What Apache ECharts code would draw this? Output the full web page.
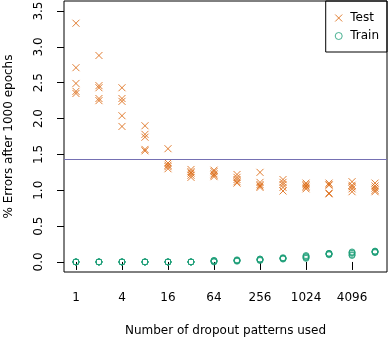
<!DOCTYPE html>
<html>
<head>
<meta charset="utf-8">
<script src="https://cdn.jsdelivr.net/npm/echarts@6/dist/echarts.min.js"></script>
<style>
	html, body {margin: 0; padding: 0; background: #fff;}
	#chart {width: 388px; height: 342px;}
</style>
</head>
<body>
<div id="chart"></div>
<script>
// number of dropout patterns (x, log2 scale)
const patterns = [1, 2, 4, 8, 16, 32, 64, 128, 256, 512, 1024, 2048, 4096, 8192]

// % test error after 1000 epochs, 5 runs per pattern count
const testErrors = [
	[3.33, 2.71, 2.49, 2.38, 2.35],
	[2.88, 2.46, 2.43, 2.28, 2.25],
	[2.43, 2.28, 2.24, 2.04, 1.89],
	[1.90, 1.78, 1.74, 1.57, 1.55],
	[1.58, 1.38, 1.35, 1.33, 1.30],
	[1.29, 1.26, 1.24, 1.21, 1.18],
	[1.28, 1.26, 1.23, 1.21, 1.19],
	[1.22, 1.18, 1.15, 1.12, 1.10],
	[1.25, 1.11, 1.08, 1.06, 1.04],
	[1.15, 1.11, 1.08, 1.04, 0.99],
	[1.10, 1.08, 1.06, 1.04, 1.02],
	[1.10, 1.08, 1.07, 0.96, 0.95],
	[1.12, 1.07, 1.05, 1.02, 0.98],
	[1.10, 1.06, 1.03, 1.00, 0.98]
]

// % train error after 1000 epochs
const trainErrors = [
	[0, 0, 0, 0, 0],
	[0, 0, 0, 0, 0],
	[0, 0, 0, 0, 0],
	[0, 0, 0, 0, 0],
	[0, 0, 0, 0, 0],
	[0, 0, 0, 0, 0],
	[0.00, 0.01, 0.01, 0.02, 0.02],
	[0.01, 0.02, 0.02, 0.02, 0.03],
	[0.02, 0.03, 0.03, 0.04, 0.04],
	[0.04, 0.05, 0.05, 0.05, 0.06],
	[0.05, 0.06, 0.07, 0.08, 0.09],
	[0.10, 0.11, 0.11, 0.12, 0.12],
	[0.09, 0.10, 0.12, 0.13, 0.14],
	[0.13, 0.14, 0.14, 0.15, 0.15]
]

const xTicks = [1, 4, 16, 64, 256, 1024, 4096]
const yTicks = [0, 0.5, 1, 1.5, 2, 2.5, 3, 3.5]
const baseline = 1.43

const font = 'DejaVu Sans'
const toPoints = rows => rows.flatMap((vals, i) => vals.map(v => [patterns[i], v]))

const chart = echarts.init(document.getElementById('chart'))
chart.setOption({
	animation: false,
	backgroundColor: '#fff',
	textStyle: {fontFamily: font, color: '#000'},
	grid: {
		left: 64, right: 1, top: 1, bottom: 70,
		outerBoundsMode: 'none',
		show: true, borderColor: '#000', borderWidth: 1
	},
	legend: {
		right: 1, top: 1,
		orient: 'vertical',
		data: ['Test', 'Train'],
		borderColor: '#000', borderWidth: 1,
		padding: [11, 8, 10, 9],
		itemWidth: 7, itemHeight: 7,
		itemGap: 6,
		itemStyle: {borderWidth: 1},
		textStyle: {fontFamily: font, fontSize: 12, color: '#000', padding: [0, 0, 0, 3]}
	},
	xAxis: {
		type: 'log',
		logBase: 2,
		min: Math.pow(2, -0.52),
		max: Math.pow(2, 13.52),
		name: 'Number of dropout patterns used',
		nameLocation: 'middle',
		nameGap: 53,
		nameTextStyle: {fontFamily: font, fontSize: 12, color: '#000'},
		axisLine: {show: false},
		splitLine: {show: false},
		axisTick: {show: true, length: 8, lineStyle: {color: '#000'}, customValues: xTicks},
		axisLabel: {
			customValues: xTicks,
			margin: 20,
			fontFamily: font, fontSize: 12, color: '#000',
			formatter: v => String(Math.round(v))
		}
	},
	yAxis: {
		type: 'value',
		min: -0.14,
		max: 3.64,
		name: '% Errors after 1000 epochs',
		nameLocation: 'middle',
		nameGap: 49,
		nameTextStyle: {fontFamily: font, fontSize: 12, color: '#000'},
		axisLine: {show: false},
		splitLine: {show: false},
		axisTick: {show: true, length: 7, lineStyle: {color: '#000'}, customValues: yTicks},
		axisLabel: {
			customValues: yTicks,
			rotate: 90,
			margin: 19,
			fontFamily: font, fontSize: 12, color: '#000',
			formatter: v => v.toFixed(1)
		}
	},
	series: [
		{
			name: 'Test',
			type: 'scatter',
			symbol: 'path://M0,0L10,10M10,0L0,10',
			symbolSize: 7,
			itemStyle: {color: 'transparent', borderColor: '#d95f02', borderWidth: 1},
			data: toPoints(testErrors),
			markLine: {
				silent: true,
				symbol: 'none',
				label: {show: false},
				lineStyle: {color: '#7570b3', width: 1, type: 'solid'},
				data: [{yAxis: baseline}]
			}
		},
		{
			name: 'Train',
			type: 'scatter',
			symbol: 'circle',
			symbolSize: 6,
			itemStyle: {color: 'transparent', borderColor: '#1b9e77', borderWidth: 1},
			data: toPoints(trainErrors)
		}
	]
})
</script>
</body>
</html>
